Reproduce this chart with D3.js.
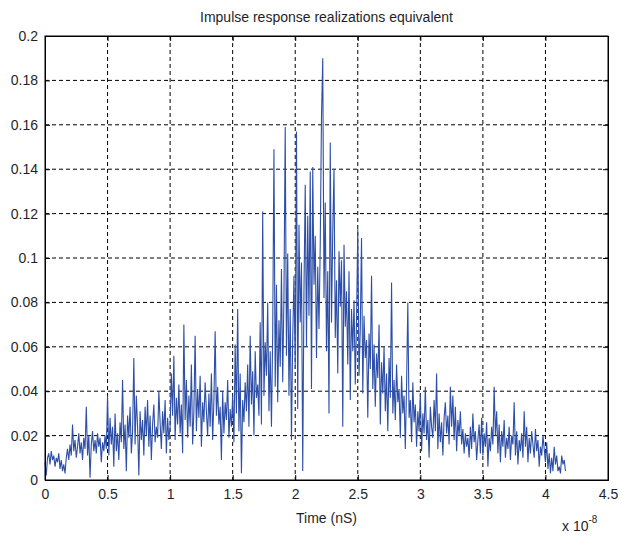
<!DOCTYPE html>
<html lang="en">
<head>
    <meta charset="utf-8">
    <title>Impulse response realizations equivalent</title>
    <style type="text/css">
        body { margin: 0; background: white; }
        svg text { font-family: "Liberation Sans", Arial, sans-serif; fill: #1f1f2a; }
    </style>
    <script type="text/javascript" src="https://d3js.org/d3.v7.min.js"></script>
</head>
<body>
<script type="text/javascript">
    // sample step (in units of 1e-8 s) and amplitudes
    let dt = 0.01;
    let amplitude = [
        0.008, 0.002, 0.010, 0.012, 0.007, 0.013, 0.009, 0.011, 0.006, 0.010,
        0.008, 0.012, 0.005, 0.009, 0.004, 0.007, 0.003, 0.010, 0.014, 0.009,
        0.016, 0.011, 0.025, 0.013, 0.018, 0.010, 0.015, 0.021, 0.012, 0.017,
        0.009, 0.019, 0.014, 0.033, 0.011, 0.020, 0.001, 0.016, 0.022, 0.013,
        0.018, 0.012, 0.021, 0.015, 0.019, 0.008, 0.017, 0.013, 0.020, 0.014,
        0.038, 0.011, 0.028, 0.016, 0.024, 0.006, 0.030, 0.013, 0.021, 0.009,
        0.026, 0.017, 0.045, 0.014, 0.025, 0.004, 0.029, 0.019, 0.033, 0.012,
        0.022, 0.055, 0.016, 0.038, 0.024, 0.002, 0.031, 0.018, 0.027, 0.011,
        0.033, 0.020, 0.036, 0.015, 0.029, 0.009, 0.025, 0.034, 0.017, 0.024,
        0.019, 0.040, 0.026, 0.014, 0.031, 0.021, 0.036, 0.012, 0.028, 0.018,
        0.024, 0.048, 0.029, 0.056, 0.018, 0.037, 0.025, 0.043, 0.021, 0.034,
        0.012, 0.070, 0.027, 0.045, 0.019, 0.038, 0.024, 0.052, 0.016, 0.031,
        0.065, 0.022, 0.041, 0.028, 0.047, 0.015, 0.035, 0.026, 0.044, 0.031,
        0.020, 0.039, 0.024, 0.048, 0.018, 0.036, 0.067, 0.029, 0.042, 0.025,
        0.033, 0.009, 0.040, 0.021, 0.035, 0.027, 0.045, 0.019, 0.032, 0.024,
        0.038, 0.017, 0.061, 0.030, 0.077, 0.022, 0.048, 0.003, 0.036, 0.026,
        0.044, 0.031, 0.052, 0.024, 0.065, 0.034, 0.049, 0.020, 0.058, 0.037,
        0.043, 0.029, 0.071, 0.025, 0.121, 0.038, 0.062, 0.047, 0.080, 0.031,
        0.058, 0.024, 0.066, 0.149, 0.042, 0.088, 0.035, 0.072, 0.051, 0.095,
        0.044, 0.083, 0.159, 0.056, 0.102, 0.038, 0.077, 0.018, 0.064, 0.092,
        0.050, 0.157, 0.032, 0.115, 0.071, 0.098, 0.004, 0.086, 0.133, 0.060,
        0.119, 0.074, 0.139, 0.041, 0.141, 0.088, 0.110, 0.055, 0.096, 0.068,
        0.106, 0.164, 0.190, 0.082, 0.125, 0.058, 0.094, 0.030, 0.152, 0.071,
        0.112, 0.140, 0.064, 0.090, 0.048, 0.103, 0.078, 0.099, 0.024, 0.106,
        0.069, 0.085, 0.052, 0.094, 0.036, 0.077, 0.058, 0.081, 0.043, 0.072,
        0.113, 0.047, 0.068, 0.109, 0.039, 0.074, 0.055, 0.063, 0.028, 0.066,
        0.050, 0.092, 0.041, 0.061, 0.033, 0.057, 0.046, 0.070, 0.025, 0.053,
        0.039, 0.060, 0.031, 0.048, 0.022, 0.055, 0.037, 0.089, 0.030, 0.045,
        0.027, 0.052, 0.035, 0.041, 0.019, 0.047, 0.030, 0.038, 0.014, 0.043,
        0.080, 0.028, 0.036, 0.017, 0.044, 0.026, 0.034, 0.015, 0.031, 0.022,
        0.039, 0.013, 0.030, 0.021, 0.042, 0.018, 0.027, 0.010, 0.033, 0.024,
        0.019, 0.036, 0.022, 0.048, 0.014, 0.030, 0.017, 0.026, 0.011, 0.028,
        0.035, 0.021, 0.029, 0.016, 0.042, 0.024, 0.038, 0.018, 0.033, 0.013,
        0.027, 0.020, 0.031, 0.016, 0.023, 0.012, 0.021, 0.015, 0.019, 0.010,
        0.024, 0.014, 0.030, 0.017, 0.022, 0.009, 0.018, 0.025, 0.012, 0.028,
        0.011, 0.021, 0.015, 0.026, 0.006, 0.019, 0.013, 0.024, 0.016, 0.042,
        0.020, 0.031, 0.012, 0.025, 0.008, 0.022, 0.015, 0.027, 0.010, 0.019,
        0.014, 0.024, 0.009, 0.020, 0.016, 0.035, 0.011, 0.022, 0.007, 0.018,
        0.013, 0.021, 0.010, 0.031, 0.015, 0.024, 0.008, 0.019, 0.012, 0.022,
        0.016, 0.010, 0.023, 0.013, 0.018, 0.006, 0.015, 0.011, 0.020, 0.014,
        0.008, 0.017, 0.005, 0.012, 0.003, 0.010, 0.004, 0.015, 0.007, 0.011,
        0.004, 0.006, 0.003, 0.011, 0.007, 0.009, 0.004
    ];
    let xTicks = [0, 0.5, 1, 1.5, 2, 2.5, 3, 3.5, 4, 4.5];
    let yTicks = [0, 0.02, 0.04, 0.06, 0.08, 0.1, 0.12, 0.14, 0.16, 0.18, 0.2];

    let w = 623;
    let h = 537;
    let margin = {top: 36, right: 15, bottom: 57, left: 45};
    let iw = w - margin.left - margin.right;
    let ih = h - margin.top - margin.bottom;

    let svg = d3.select("body").append("svg")
        .attr("width", w)
        .attr("height", h)
        .style("background-color", "white");

    let g = svg.append("g")
        .attr("transform", "translate(" + margin.left + "," + margin.top + ")");

    let x = d3.scaleLinear().domain([0, 4.5]).range([0, iw]);
    let y = d3.scaleLinear().domain([0, 0.2]).range([ih, 0]);

    // dashed grid
    g.selectAll("line.vgrid")
        .data(xTicks.slice(1, -1))
        .enter().append("line")
        .attr("class", "vgrid")
        .attr("x1", d => x(d)).attr("x2", d => x(d))
        .attr("y1", 0).attr("y2", ih)
        .attr("stroke", "#000").attr("stroke-width", 1)
        .attr("stroke-dasharray", "4,3");

    g.selectAll("line.hgrid")
        .data(yTicks.slice(1, -1))
        .enter().append("line")
        .attr("class", "hgrid")
        .attr("x1", 0).attr("x2", iw)
        .attr("y1", d => y(d)).attr("y2", d => y(d))
        .attr("stroke", "#000").attr("stroke-width", 1)
        .attr("stroke-dasharray", "4,3");

    // signal
    let line = d3.line()
        .x((d, i) => x(i * dt))
        .y(d => y(d));

    g.append("path")
        .datum(amplitude)
        .attr("fill", "none")
        .attr("stroke", "#2d4fa8")
        .attr("stroke-width", 1.1)
        .attr("d", line);

    // axes (ticks pointing inward, like matlab)
    g.append("g")
        .attr("transform", "translate(0," + ih + ")")
        .call(d3.axisBottom(x).tickValues(xTicks).tickSize(-5).tickPadding(9)
            .tickFormat(d3.format("")));
    g.append("g")
        .call(d3.axisLeft(y).tickValues(yTicks).tickSize(-5).tickPadding(7)
            .tickFormat(d3.format("")));
    g.append("g")
        .call(d3.axisTop(x).tickValues(xTicks).tickSize(-5).tickFormat(""));
    g.append("g")
        .attr("transform", "translate(" + iw + ",0)")
        .call(d3.axisRight(y).tickValues(yTicks).tickSize(-5).tickFormat(""));

    g.selectAll(".domain").attr("stroke", "#000");
    g.selectAll(".tick line").attr("stroke", "#000");
    g.selectAll(".tick text")
        .style("font-size", "14px")
        .attr("fill", "#1f1f2a");

    // box
    g.append("rect")
        .attr("width", iw).attr("height", ih)
        .attr("fill", "none").attr("stroke", "#000").attr("stroke-width", 1);

    // labels
    svg.append("text")
        .attr("x", margin.left + iw / 2)
        .attr("y", 22)
        .attr("text-anchor", "middle")
        .style("font-size", "14px")
        .text("Impulse response realizations equivalent");

    svg.append("text")
        .attr("x", margin.left + iw / 2)
        .attr("y", 523)
        .attr("text-anchor", "middle")
        .style("font-size", "14px")
        .text("Time (nS)");

    let expo = svg.append("text")
        .attr("x", 562)
        .attr("y", 531)
        .style("font-size", "14px");
    expo.append("tspan").text("x 10");
    expo.append("tspan")
        .attr("dy", -8)
        .style("font-size", "10px")
        .text("-8");
</script>
</body>
</html>
